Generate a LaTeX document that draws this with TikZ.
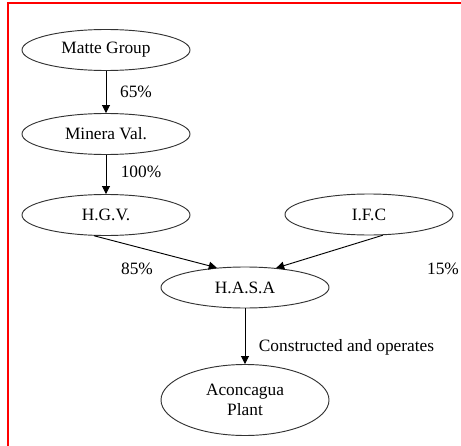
\documentclass[tikz,border=0pt]{standalone}
\usepackage{fontspec}
\setmainfont{Liberation Serif}
\usetikzlibrary{shapes.geometric,arrows.meta}
\begin{document}
\begin{tikzpicture}[x=0.75pt,y=-0.75pt,
  font=\fontsize{13}{14.5}\selectfont,
  ent/.style={ellipse,draw=black!80,line width=0.7pt,minimum width=126pt,minimum height=30.75pt,inner sep=0pt,align=center},
  lbl/.style={inner sep=0pt,anchor=center},
  arr/.style={draw=black,line width=0.7pt,-{Triangle[length=6pt,width=6pt]}}]
\useasboundingbox (0,0) rectangle (461,446);
\draw[red,line width=1.2pt] (461,3) -- (8,3) -- (8,446);
\node[ent] (matte) at (106,50) {Matte Group};
\node[ent] (minera) at (106,134) {Minera Val.};
\node[ent] (hgv) at (106,215) {H.G.V.};
\node[ent] (ifc) at (369,214.5) {I.F.C};
\node[ent] (hasa) at (245,287.5) {H.A.S.A};
\node[ent,minimum height=53.25pt] (plant) at (245,400) {Aconcagua\\Plant};
\draw[arr] (matte) -- (minera);
\draw[arr] (minera) -- (hgv);
\draw[arr] (hgv.240) -- (hasa.145);
\draw[arr] (ifc.-56) -- (hasa.32);
\draw[arr] (hasa) -- (plant);
\node[lbl] (l65) at (136,92) {65\%};
\node[lbl] (l100) at (141,172) {100\%};
\node[lbl] (l85) at (137,268.5) {85\%};
\node[lbl] (l15) at (443,268.5) {15\%};
\node[lbl] (lco) at (346.5,347.5) {Constructed and operates};
\end{tikzpicture}
\end{document}
